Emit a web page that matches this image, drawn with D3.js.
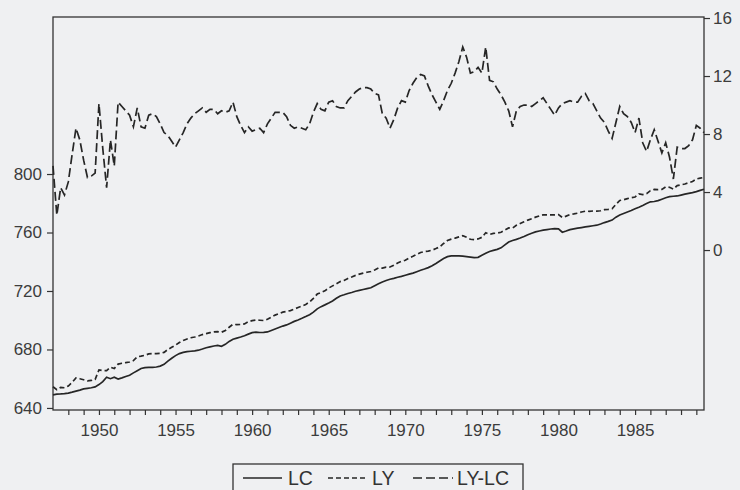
<!DOCTYPE html>
<html>
<head>
<meta charset="utf-8">
<script src="https://cdn.jsdelivr.net/npm/d3@7"></script>
<style>
  html, body { margin: 0; padding: 0; background: #eff0f2; }
  svg { display: block; }
  .axis text { font-family: "Liberation Sans", Arial, sans-serif; font-size: 17px; fill: #3c3c3c; }
  .axis path, .axis line { stroke: #333; stroke-width: 1.2; }
</style>
</head>
<body>
<div id="chart"></div>
<script>
// quarterly, 1947Q1 .. 1989Q3
const startYear = 1947;
const nObs = 171;

// LC (left scale)
const lc = [
  649.0, 649.5, 649.6, 649.8, 650.2, 650.8, 651.5, 652.2, 653.0, 653.4,
  653.8, 654.4, 656.0, 658.0, 661.0, 660.0, 661.0, 659.8, 660.6, 661.5,
  662.4, 664.0, 665.5, 667.0, 667.6, 667.7, 667.8, 668.0, 668.6, 669.8,
  672.0, 674.0, 675.8, 677.2, 678.0, 678.5, 678.8, 679.1, 679.5, 680.3,
  681.2, 681.8, 682.4, 682.8, 682.2, 683.5, 685.5, 687.0, 687.8, 688.5,
  689.4, 690.5, 691.5, 691.8, 691.6, 691.7, 692.0, 693.0, 694.0, 695.0,
  696.0, 696.8, 698.0, 699.2, 700.2, 701.3, 702.5, 703.8, 705.5, 707.8,
  709.3, 710.5, 711.8, 713.2, 715.0, 716.6, 717.4, 718.3, 719.0, 719.8,
  720.4, 721.0, 721.6, 722.2, 723.6, 725.0, 726.2, 727.2, 728.0, 728.6,
  729.4, 730.0, 730.8, 731.5, 732.2, 733.2, 734.2, 735.0, 736.0, 737.2,
  738.8, 740.5, 742.2, 743.5, 744.0, 744.0, 744.0, 743.8, 743.5, 743.2,
  742.8, 743.0, 744.5, 745.8, 747.0, 747.8, 748.5, 749.5, 751.5, 753.5,
  754.5, 755.3, 756.2, 757.3, 758.5, 759.5, 760.4, 761.0, 761.6, 762.0,
  762.4, 762.7, 762.5, 760.2, 761.0, 762.0, 762.5, 763.0, 763.4, 763.8,
  764.2, 764.6, 765.0, 765.8, 766.8, 767.6, 768.5, 770.5, 772.0, 773.0,
  774.0, 775.0, 776.2, 777.3, 778.5, 779.8, 781.0, 781.2, 781.8, 782.8,
  783.8, 784.5, 784.8, 785.0, 785.6, 786.2, 786.8, 787.3, 788.0, 788.8,
  789.6
];

// LY (left scale)
const ly = [
  654.5, 652.5, 654.0, 653.8, 655.0, 657.5, 660.5, 660.0, 659.3, 658.5,
  658.8, 659.5, 666.0, 665.5, 665.5, 667.8, 667.0, 670.0, 670.6, 671.0,
  671.4, 672.4, 675.0, 675.4, 676.0, 677.0, 677.2, 677.2, 677.3, 678.0,
  680.0, 681.5, 683.0, 684.8, 686.2, 687.2, 688.0, 688.5, 689.2, 690.2,
  690.8, 691.5, 692.1, 692.2, 691.8, 693.0, 695.2, 697.2, 697.0, 697.1,
  697.5, 699.0, 699.7, 700.1, 700.0, 699.8, 700.7, 702.1, 703.5, 704.5,
  705.5, 706.0, 706.6, 707.6, 708.7, 709.7, 710.8, 712.5, 715.0, 717.9,
  719.0, 720.1, 722.0, 723.5, 724.9, 726.4, 727.2, 728.6, 729.6, 730.7,
  731.5, 732.2, 732.8, 733.3, 734.4, 735.7, 735.6, 736.3, 736.4, 737.6,
  739.2, 740.3, 741.0, 742.5, 743.7, 745.1, 746.3, 747.0, 747.3, 747.9,
  749.0, 750.2, 752.5, 754.5, 755.5, 756.2, 757.0, 757.8, 756.8, 755.4,
  755.1, 755.6, 756.7, 759.8, 758.7, 759.4, 759.6, 760.2, 761.7, 763.1,
  763.0, 764.9, 766.1, 767.3, 768.5, 769.4, 770.5, 771.3, 772.1, 772.1,
  772.1, 772.0, 772.3, 770.3, 771.2, 772.3, 772.7, 773.2, 774.0, 774.6,
  774.5, 774.7, 774.6, 774.9, 775.6, 775.8, 776.2, 779.3, 781.9, 782.4,
  783.2, 783.8, 784.3, 786.4, 785.9, 786.6, 788.6, 789.5, 789.3, 789.5,
  791.2, 790.9, 789.7, 792.1, 792.6, 793.2, 794.0, 794.9, 796.6, 797.2,
  797.7
];

// LY-LC (right scale)
const lyLc = [
  5.8, 2.4, 4.3, 3.8, 4.7, 6.6, 8.4, 7.6, 6.2, 5.0,
  5.1, 5.3, 10.1, 7.0, 4.3, 7.6, 5.8, 10.2, 9.9, 9.6,
  9.3, 8.5, 9.8, 8.5, 8.4, 9.3, 9.4, 9.2, 8.7, 8.1,
  7.9, 7.5, 7.1, 7.6, 8.1, 8.7, 9.1, 9.4, 9.6, 9.8,
  9.5, 9.7, 9.7, 9.4, 9.6, 9.5, 9.6, 10.2, 9.2, 8.6,
  8.1, 8.5, 8.2, 8.3, 8.4, 8.1, 8.7, 9.1, 9.5, 9.5,
  9.5, 9.2, 8.6, 8.4, 8.5, 8.4, 8.3, 8.7, 9.5, 10.1,
  9.7, 9.6, 10.2, 10.3, 9.9, 9.8, 9.8, 10.3, 10.6, 10.9,
  11.1, 11.2, 11.2, 11.1, 10.8, 10.7, 9.4, 9.1, 8.4, 9.0,
  9.8, 10.3, 10.2, 11.0, 11.5, 11.9, 12.1, 12.0, 11.3, 10.7,
  10.2, 9.7, 10.3, 11.0, 11.5, 12.2, 13.0, 14.0, 13.3, 12.2,
  12.3, 12.6, 12.2, 14.0, 11.7, 11.6, 11.1, 10.7, 10.2, 9.6,
  8.5, 9.6, 9.9, 10.0, 10.0, 9.9, 10.1, 10.3, 10.5, 10.1,
  9.7, 9.3, 9.8, 10.1, 10.2, 10.3, 10.2, 10.2, 10.6, 10.8,
  10.3, 10.1, 9.6, 9.1, 8.8, 8.2, 7.7, 8.8, 9.9, 9.4,
  9.2, 8.8, 8.1, 9.1, 7.4, 6.8, 7.6, 8.3, 7.5, 6.7,
  7.4, 6.4, 4.9, 7.1, 7.0, 7.0, 7.2, 7.6, 8.6, 8.4,
  8.1
];

const leftTicks = [640, 680, 720, 760, 800];
const rightTicks = [0, 4, 8, 12, 16];
const yearLabels = [1950, 1955, 1960, 1965, 1970, 1975, 1980, 1985];
const legendNames = ["LC", "LY", "LY-LC"];

const width = 740, height = 490;
const plot = { left: 53, right: 704, top: 17, bottom: 410 };

const t = d3.range(nObs).map(i => startYear + i / 4);

const svg = d3.select("#chart").append("svg")
    .attr("width", width)
    .attr("height", height);

svg.append("rect").attr("width", width).attr("height", height).attr("fill", "#eff0f2");

const x = d3.scaleLinear()
    .domain([startYear, startYear + (nObs - 1) / 4])
    .range([plot.left, plot.right]);

const yL = d3.scaleLinear().domain([638.6, 907.4]).range([plot.bottom, plot.top]);
const yR = d3.scaleLinear().domain([-11.03, 16.07]).range([plot.bottom, plot.top]);

// axes
svg.append("g")
    .attr("class", "axis")
    .attr("transform", `translate(${plot.left},0)`)
    .call(d3.axisLeft(yL).tickValues(leftTicks).tickSize(6).tickPadding(5))
    .call(g => g.select(".domain").remove());

svg.append("g")
    .attr("class", "axis")
    .attr("transform", `translate(${plot.right},0)`)
    .call(d3.axisRight(yR).tickValues(rightTicks).tickSize(6).tickPadding(3))
    .call(g => g.select(".domain").remove());

svg.append("g")
    .attr("class", "axis")
    .attr("transform", `translate(0,${plot.bottom})`)
    .call(d3.axisBottom(x)
        .tickValues(d3.range(1948, 1990))
        .tickSize(5).tickPadding(9)
        .tickFormat(d => yearLabels.includes(d) ? d : ""))
    .call(g => g.select(".domain").remove());

// frame
svg.append("rect")
    .attr("x", plot.left).attr("y", plot.top)
    .attr("width", plot.right - plot.left)
    .attr("height", plot.bottom - plot.top)
    .attr("fill", "none")
    .attr("stroke", "#333")
    .attr("stroke-width", 1.3);

// series
const lineL = d3.line().x((d, i) => x(t[i])).y(d => yL(d));
const lineR = d3.line().x((d, i) => x(t[i])).y(d => yR(d));

const styles = [
  { dash: null },
  { dash: "5,3" },
  { dash: "9,4" }
];

svg.append("path").datum(lc)
    .attr("d", lineL).attr("fill", "none")
    .attr("stroke", "#262626").attr("stroke-width", 1.7);

svg.append("path").datum(ly)
    .attr("d", lineL).attr("fill", "none")
    .attr("stroke", "#262626").attr("stroke-width", 1.7)
    .attr("stroke-dasharray", styles[1].dash);

svg.append("path").datum(lyLc)
    .attr("d", lineR).attr("fill", "none")
    .attr("stroke", "#262626").attr("stroke-width", 1.7)
    .attr("stroke-dasharray", styles[2].dash);

// legend
const legend = svg.append("g");
legend.append("rect")
    .attr("x", 233).attr("y", 464)
    .attr("width", 290).attr("height", 40)
    .attr("fill", "none").attr("stroke", "#333").attr("stroke-width", 1.3);

const legendPos = [
  { x1: 243, x2: 282, tx: 288 },
  { x1: 328, x2: 367, tx: 372 },
  { x1: 413, x2: 453, tx: 457 }
];

legendNames.forEach((name, i) => {
  const p = legendPos[i];
  legend.append("line")
      .attr("x1", p.x1).attr("x2", p.x2)
      .attr("y1", 478).attr("y2", 478)
      .attr("stroke", "#262626").attr("stroke-width", 1.7)
      .attr("stroke-dasharray", styles[i].dash);
  legend.append("text")
      .attr("x", p.tx).attr("y", 485)
      .attr("font-family", "Liberation Sans, Arial, sans-serif")
      .attr("font-size", 19.5)
      .attr("fill", "#333")
      .text(name);
});
</script>
</body>
</html>
